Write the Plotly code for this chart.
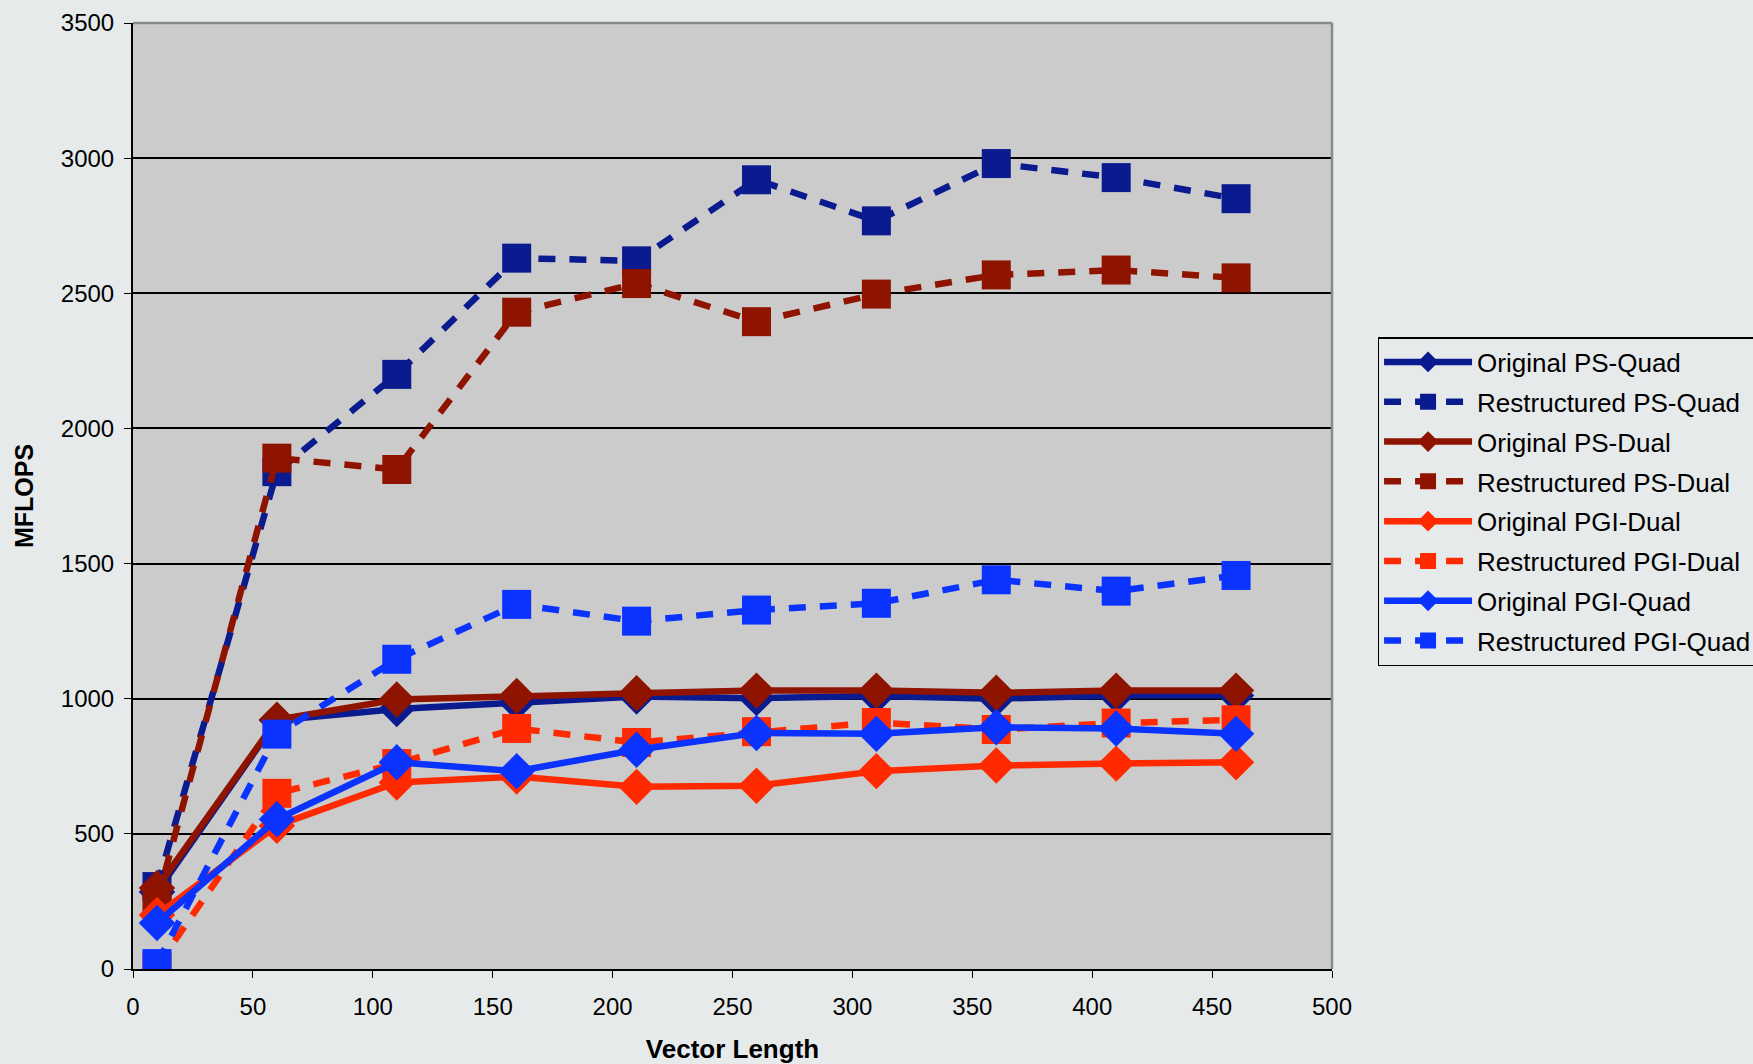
import plotly.graph_objects as go

vector_length = [10, 60, 110, 160, 210, 260, 310, 360, 410, 460]

orig_ps_quad = [285, 920, 962, 985, 1008, 1002, 1010, 1000, 1012, 1012]
rest_ps_quad = [305, 1840, 2200, 2630, 2620, 2920, 2768, 2980, 2928, 2850]
orig_ps_dual = [300, 922, 997, 1010, 1020, 1030, 1030, 1022, 1030, 1030]
rest_ps_dual = [250, 1890, 1848, 2430, 2536, 2395, 2497, 2568, 2586, 2557]
orig_pgi_dual = [200, 530, 690, 712, 674, 678, 732, 753, 760, 765]
rest_pgi_dual = [10, 650, 760, 890, 838, 878, 912, 886, 910, 922]
orig_pgi_quad = [170, 554, 765, 732, 811, 873, 870, 894, 890, 870]
rest_pgi_quad = [20, 869, 1146, 1349, 1287, 1328, 1353, 1440, 1398, 1456]

series = [
    ("Original PS-Quad", orig_ps_quad, "#0a1a8f", "solid", "diamond"),
    ("Restructured PS-Quad", rest_ps_quad, "#0a1a8f", "dash", "square"),
    ("Original PS-Dual", orig_ps_dual, "#8f1400", "solid", "diamond"),
    ("Restructured PS-Dual", rest_ps_dual, "#8f1400", "dash", "square"),
    ("Original PGI-Dual", orig_pgi_dual, "#ff2a00", "solid", "diamond"),
    ("Restructured PGI-Dual", rest_pgi_dual, "#ff2a00", "dash", "square"),
    ("Original PGI-Quad", orig_pgi_quad, "#0a33ff", "solid", "diamond"),
    ("Restructured PGI-Quad", rest_pgi_quad, "#0a33ff", "dash", "square"),
]

fig = go.Figure()
for i, (name, vals, color, dash, sym) in enumerate(series):
    fig.add_trace(go.Scatter(
        x=vector_length, y=vals, name=name, mode="lines+markers",
        legendgroup=f"g{i}",
        line=dict(color=color, width=6.5, dash="17px,14px" if dash == "dash" else "solid"),
        marker=dict(symbol=sym, size=29 if sym == "square" else 28, color=color,
                    line=dict(width=0)),
    ))

font = "Liberation Sans, Arial, sans-serif"
fig.update_layout(
    width=1753, height=1064,
    margin=dict(l=133, r=421, t=23, b=95, autoexpand=False),
    paper_bgcolor="#e7eaeb",
    plot_bgcolor="#cbcbcb",
    font=dict(family=font, size=20, color="#000000"),
    showlegend=True,
    legend=dict(
        x=1.038, y=0.668, xanchor="left", yanchor="top",
        bgcolor="rgba(0,0,0,0)", bordercolor="#000000", borderwidth=1.5,
        font=dict(family=font, size=26, color="#000000"),
        itemwidth=88, tracegroupgap=3, traceorder="grouped",
    ),
    xaxis=dict(
        range=[0, 500], dtick=50, tick0=0, automargin=False,
        showgrid=False, zeroline=False,
        showline=True, linecolor="#000000", linewidth=2,
        ticks="outside", ticklen=7, tickcolor="#000000",
        tickfont=dict(family=font, size=24), ticklabelstandoff=8,
        title=dict(text="<b>Vector Length</b>", font=dict(family=font, size=26), standoff=24),
        mirror=False,
    ),
    yaxis=dict(
        range=[0, 3500], dtick=500, tick0=0, automargin=False,
        showgrid=True, gridcolor="#000000", gridwidth=1.5,
        zeroline=False,
        showline=True, linecolor="#000000", linewidth=2,
        ticks="outside", ticklen=7, tickcolor="#000000",
        tickfont=dict(family=font, size=24), ticklabelstandoff=5,
        title=dict(text="<b>MFLOPS</b>", font=dict(family=font, size=25), standoff=20),
    ),
)

# gray frame on top/right of plot area
fig.add_shape(type="line", xref="paper", yref="paper", x0=0, x1=1, y0=1, y1=1,
              line=dict(color="#8a8a8a", width=2.5), layer="above")
fig.add_shape(type="line", xref="paper", yref="paper", x0=1, x1=1, y0=0, y1=1,
              line=dict(color="#8a8a8a", width=2.5), layer="above")

fig.write_html("out.html", config={"displayModeBar": False},
               post_script="document.body.style.margin='0';document.body.style.background='#e7eaeb';")
